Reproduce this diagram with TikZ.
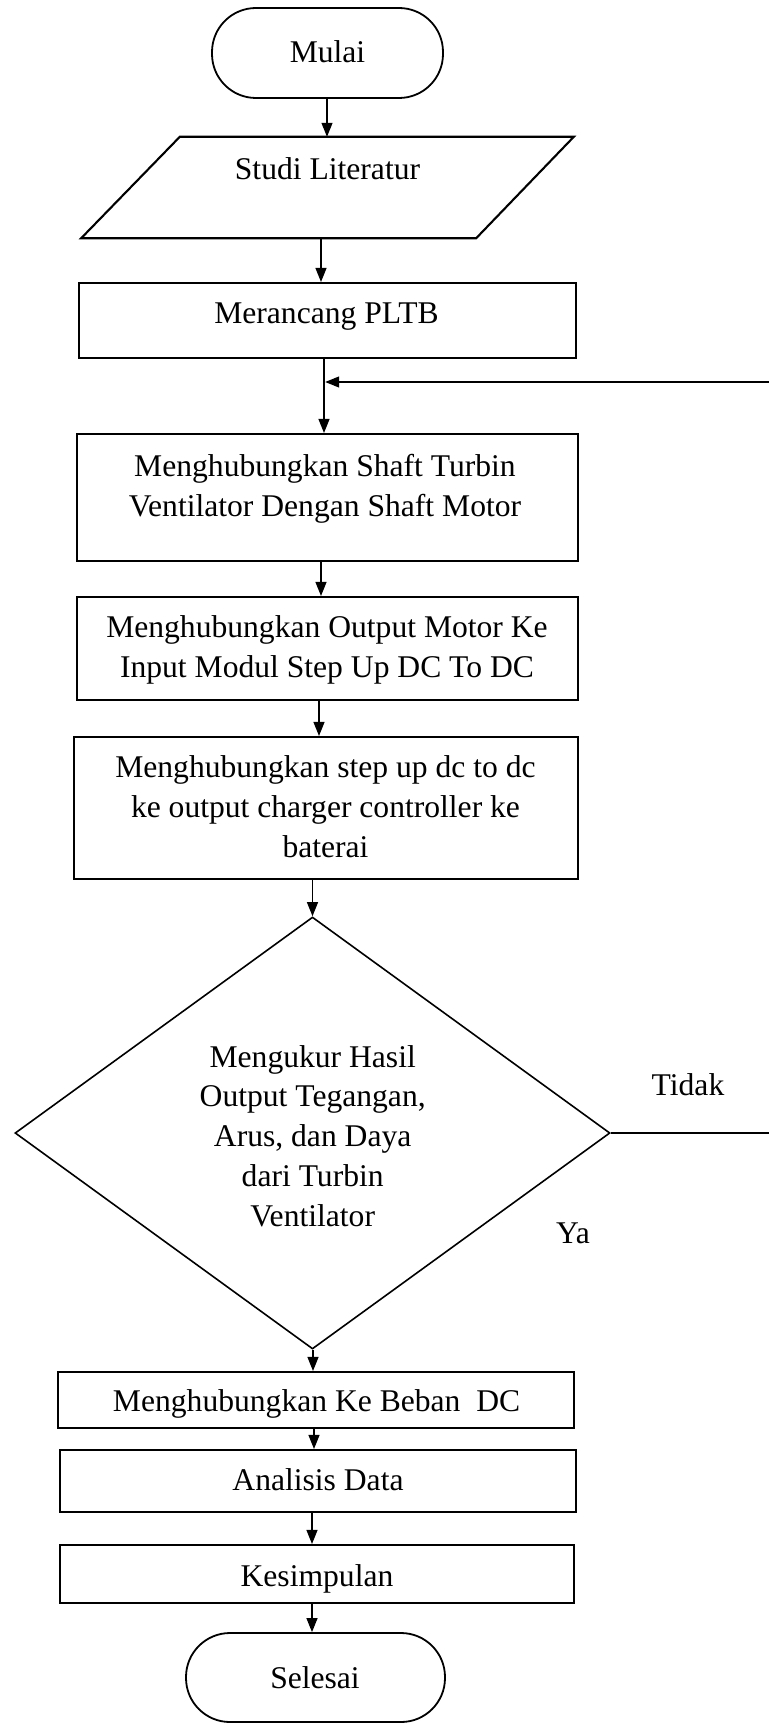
\documentclass[tikz,border=0pt]{standalone}
\usepackage{fontspec}
\setmainfont{Liberation Serif}
\usetikzlibrary{arrows.meta,shapes.geometric}
\begin{document}
\begin{tikzpicture}[x=1pt,y=-1pt,
  stepbox/.style={draw, line width=2.1pt, rectangle, inner sep=0pt},
  term/.style={draw, line width=1.8pt, rectangle, rounded corners=44pt, inner sep=0pt},
  decide/.style={draw, line width=1.6pt, diamond, inner sep=0pt},
  txt/.style={font=\fontsize{31.6}{40}\selectfont, align=center, inner sep=0pt, anchor=base},
  arr/.style={line width=1.2pt, -{Triangle[length=14pt,width=11pt]}},
  conn/.style={line width=1.2pt}]
\useasboundingbox (0,0) rectangle (768,1723);

% shapes
\node[term, minimum width=231pt, minimum height=90pt] (mulai) at (327.5,53) {};
\node[inner sep=0pt, minimum width=296pt, minimum height=101pt] (lit) at (328,187.5) {};
\draw[line width=2.1pt, line join=miter] (lit.north west) -- ++(394,0) -- (lit.south east) -- ++(-395,0) -- cycle;
\node[stepbox, minimum width=497pt, minimum height=75pt] (pltb) at (327.5,320.5) {};
\node[stepbox, minimum width=501pt, minimum height=127pt] (b3) at (327.5,497.5) {};
\node[stepbox, minimum width=501pt, minimum height=103pt] (b4) at (327.5,648.5) {};
\node[stepbox, minimum width=504pt, minimum height=142pt] (b5) at (326,808) {};
\node[decide, minimum width=595pt, minimum height=432pt] (dia) at (312.5,1133) {};
\node[stepbox, minimum width=516pt, minimum height=56pt] (beban) at (316,1400) {};
\node[stepbox, minimum width=516pt, minimum height=62pt] (anal) at (318,1481) {};
\node[stepbox, minimum width=514pt, minimum height=58pt] (kes) at (317,1574) {};
\node[term, minimum width=259pt, minimum height=89pt] (selesai) at (315.5,1677.5) {};

% texts (base anchor = baseline of the last line)
\node[txt] (tmulai) at (327.5,63) {Mulai};
\node[txt] (tlit) at (327.5,179.5) {Studi Literatur};
\node[txt] (tpltb) at (326.5,323) {Merancang PLTB};
\node[txt] (tb3) at (325,516.5) {Menghubungkan Shaft Turbin\\Ventilator Dengan Shaft Motor};
\node[txt] (tb4) at (327,677) {Menghubungkan Output Motor Ke\\Input Modul Step Up DC To DC};
\node[txt] (tb5) at (325.5,857) {Menghubungkan step up dc to dc\\ke output charger controller ke\\baterai};
\node[txt, font=\fontsize{31.6}{39.75}\selectfont] (tdia) at (312.7,1226) {Mengukur Hasil\\Output Tegangan,\\Arus, dan Daya\\dari Turbin\\Ventilator};
\node[txt] (tbeban) at (316.6,1411.5) {Menghubungkan Ke Beban\ \ DC};
\node[txt] (tanal) at (318,1490) {Analisis Data};
\node[txt] (tkes) at (317,1586) {Kesimpulan};
\node[txt] (tsel) at (315,1688) {Selesai};
\node[txt] (ttidak) at (688,1095) {Tidak};
\node[txt] (tya) at (573,1243) {Ya};

% connectors
\draw[arr] ([xshift=-0.5pt]mulai.south) -- ([xshift=-1pt]lit.north);
\draw[arr] ([xshift=-7pt]lit.south) -- ([xshift=-6.5pt]pltb.north);
\draw[arr] ([xshift=-3.5pt]pltb.south) -- ([xshift=-3.5pt]b3.north);
\draw[arr] ([xshift=-6.5pt]b3.south) -- ([xshift=-6.5pt]b4.north);
\draw[arr] ([xshift=-8.5pt]b4.south) -- ([xshift=-7pt]b5.north);
\draw[arr] ([xshift=-13.5pt]b5.south) -- (dia.north);
\draw[arr] ([xshift=0.5pt]dia.south) -- ([xshift=-3pt]beban.north);
\draw[arr] ([xshift=-2pt]beban.south) -- ([xshift=-4pt]anal.north);
\draw[arr] ([xshift=-6pt]anal.south) -- ([xshift=-5pt]kes.north);
\draw[arr] ([xshift=-5pt]kes.south) -- ([xshift=-3.5pt]selesai.north);

\coordinate (fb) at (771,382);
\coordinate (j) at (325.2,382);
\draw[arr] (dia.east) -- (dia.east -| fb) -- (fb) -- (j);
\end{tikzpicture}
\end{document}
